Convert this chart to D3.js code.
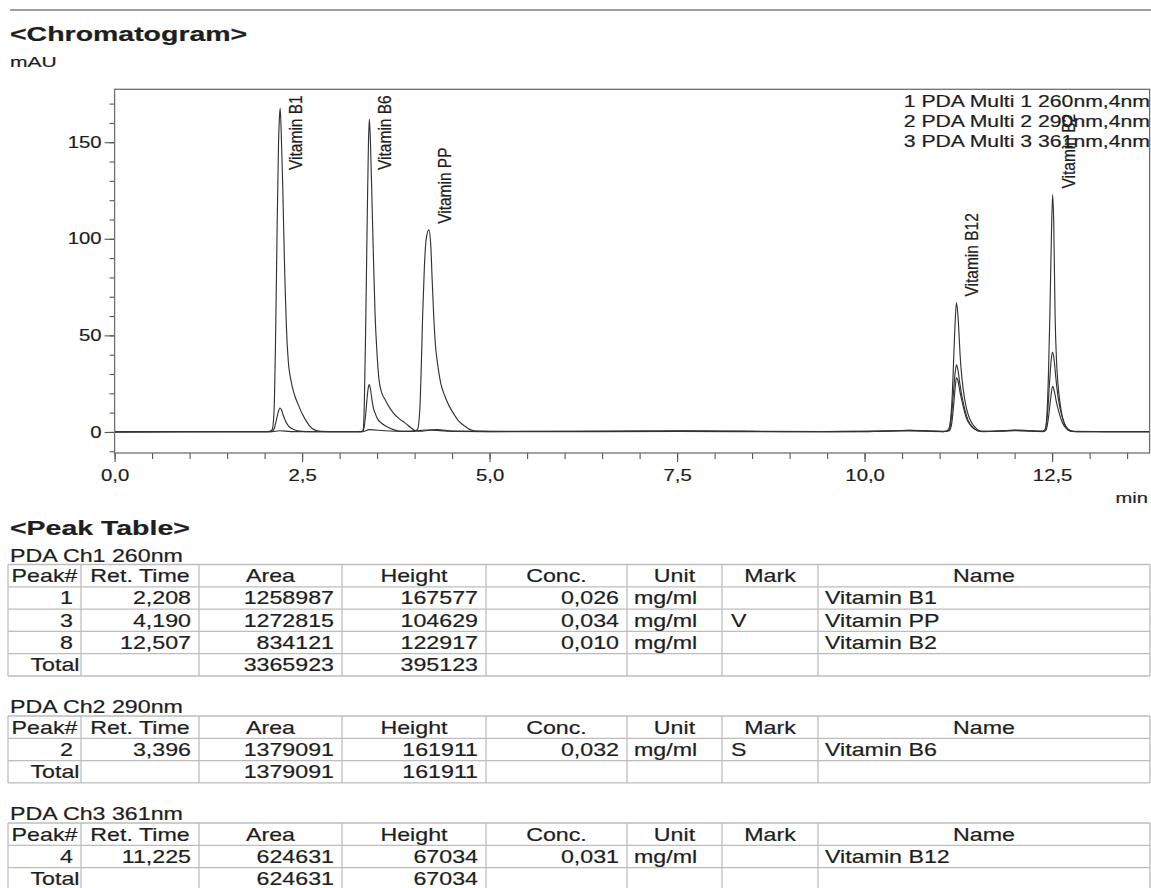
<!DOCTYPE html>
<html>
<head>
<meta charset="utf-8">
<script src="https://cdn.jsdelivr.net/npm/d3@7"></script>
<style>
  html, body { margin: 0; padding: 0; background: #fff; }
  svg { display: block; }
  text { font-family: "Liberation Sans", Arial, sans-serif; fill: #1e1e1e; stroke: #1e1e1e; stroke-width: 0.2px; }
</style>
</head>
<body>
<svg id="chart" width="1151" height="888"></svg>
<script>
// ---- Chromatogram traces: [retention time (min), absorbance (mAU)] ----
// PDA Multi 1, 260 nm
const ch1Trace = [
  [0,0],[0.8,0.1],[1.6,0.1],[2.05,0.2],[2.10,1],[2.125,10],[2.145,45],[2.165,100],[2.185,148],[2.198,163],
  [2.208,167.577],[2.22,157],[2.24,130],[2.255,104],[2.27,80],[2.29,55],[2.315,37],[2.35,27],[2.40,19],[2.45,14],
  [2.50,9.5],[2.55,6],[2.60,3.2],[2.66,1.2],[2.75,0.3],[3.0,0.1],[3.30,0.1],[3.325,2],[3.35,10],[3.37,19],
  [3.385,23.5],[3.396,24.5],[3.41,22.5],[3.43,17],[3.45,12.5],[3.472,9.9],[3.51,6.5],[3.56,4.5],[3.62,3],[3.68,1.8],
  [3.75,0.8],[3.82,0.3],[4.00,0.3],[4.04,1.5],[4.07,12],[4.09,35],[4.107,60],[4.13,85],[4.155,100],[4.19,104.629],
  [4.215,97],[4.234,79],[4.255,60],[4.28,44],[4.305,35.7],[4.35,25],[4.403,18.6],[4.46,13.5],[4.514,9.9],[4.58,6],
  [4.67,3],[4.74,1.2],[4.82,0.5],[5.2,0.3],[6.2,0.3],[7.0,0.4],[7.6,0.6],[8.4,0.4],[9.5,0.2],[10.2,0.3],
  [10.6,0.9],[10.85,0.6],[11.05,0.2],[11.12,0.6],[11.15,5],[11.18,18],[11.205,30],[11.225,34.8],[11.245,32],[11.27,25],
  [11.30,18],[11.34,11],[11.38,6],[11.43,3],[11.48,1.2],[11.55,0.3],[11.8,0.4],[12.0,1.0],[12.2,0.7],[12.38,0.4],
  [12.41,1.5],[12.43,8],[12.45,28],[12.47,60],[12.49,100],[12.507,122.917],[12.522,108],[12.54,60],[12.56,36],[12.58,24],
  [12.60,16.7],[12.63,9],[12.66,4.5],[12.68,2.9],[12.71,1],[12.76,0.3],[13.2,0.2],[13.8,0.1]
];
// PDA Multi 2, 290 nm
const ch2Trace = [
  [0,0],[1.0,0.1],[2.08,0.1],[2.12,1],[2.15,5],[2.18,10],[2.205,12.4],[2.225,11.5],[2.25,8.5],[2.28,5.5],
  [2.32,3],[2.37,1.6],[2.44,0.6],[2.55,0.2],[3.2,0.1],[3.30,0.3],[3.316,1.5],[3.33,15],[3.35,60],[3.37,115],
  [3.385,150],[3.396,161.911],[3.41,152],[3.436,113],[3.455,85],[3.472,62],[3.50,40],[3.525,27.2],[3.56,20.5],[3.605,16.8],
  [3.66,13],[3.716,9.9],[3.79,7],[3.872,4.7],[3.95,2.2],[4.02,0.5],[4.1,0.4],[4.2,0.9],[4.3,0.8],[4.5,0.3],
  [5.5,0.1],[7.5,0.3],[9.0,0.1],[10.6,0.5],[11.05,0.2],[11.13,0.6],[11.16,4],[11.19,15],[11.21,24],[11.225,28],
  [11.245,26.5],[11.27,21],[11.31,14],[11.35,8],[11.40,4],[11.46,1.6],[11.54,0.3],[12.0,0.7],[12.38,0.3],[12.41,1.5],
  [12.44,10],[12.47,28],[12.49,38],[12.507,41.4],[12.525,38],[12.55,28],[12.58,18],[12.61,11.5],[12.65,6],[12.69,2.5],
  [12.74,0.8],[12.8,0.2],[13.8,0.1]
];
// PDA Multi 3, 361 nm
const ch3Trace = [
  [0,0],[1.5,0.1],[2.1,0.1],[2.2,0.6],[2.35,0.2],[3.3,0.1],[3.4,1.2],[3.6,0.6],[3.9,0.3],[4.15,1.0],
  [4.3,1.2],[4.5,0.4],[5.0,0.2],[7.5,0.4],[9.0,0.2],[10.0,0.2],[10.6,0.9],[10.9,0.4],[11.08,0.3],[11.12,1.5],
  [11.15,8],[11.17,20],[11.184,34],[11.205,55],[11.225,67.034],[11.245,60],[11.26,50],[11.273,40],[11.30,27],[11.33,18],
  [11.36,12],[11.40,7],[11.44,4],[11.47,2.6],[11.52,0.8],[11.58,0.2],[12.0,0.8],[12.38,0.2],[12.42,1],[12.45,7],
  [12.48,17],[12.507,23.6],[12.53,21],[12.56,15],[12.60,9],[12.64,4.5],[12.69,1.8],[12.75,0.5],[12.85,0.1],[13.8,0.1]
];

// ---- Identified peaks ----
const peakNames   = ["Vitamin B1", "Vitamin B6", "Vitamin PP", "Vitamin B12", "Vitamin B2"];
const peakTimes   = [2.208, 3.396, 4.190, 11.225, 12.507];
const peakHeights = [167.577, 161.911, 104.629, 67.034, 122.917];

// ---- Axis ticks and legend ----
const xTickValues = [0, 2.5, 5, 7.5, 10, 12.5];
const yTickValues = [0, 50, 100, 150];
const legendLines = ["1 PDA Multi 1 260nm,4nm", "2 PDA Multi 2 290nm,4nm", "3 PDA Multi 3 361nm,4nm"];

// ---- Peak tables ----
const tableColumns = ["Peak#", "Ret. Time", "Area", "Height", "Conc.", "Unit", "Mark", "Name"];
const ch1Title = "PDA Ch1 260nm";
const ch1Rows = [
  ["1", "2,208", "1258987", "167577", "0,026", "mg/ml", "", "Vitamin B1"],
  ["3", "4,190", "1272815", "104629", "0,034", "mg/ml", "V", "Vitamin PP"],
  ["8", "12,507", "834121", "122917", "0,010", "mg/ml", "", "Vitamin B2"],
  ["Total", "", "3365923", "395123", "", "", "", ""]
];
const ch2Title = "PDA Ch2 290nm";
const ch2Rows = [
  ["2", "3,396", "1379091", "161911", "0,032", "mg/ml", "S", "Vitamin B6"],
  ["Total", "", "1379091", "161911", "", "", "", ""]
];
const ch3Title = "PDA Ch3 361nm";
const ch3Rows = [
  ["4", "11,225", "624631", "67034", "0,031", "mg/ml", "", "Vitamin B12"],
  ["Total", "", "624631", "67034", "", "", "", ""]
];

// ================= drawing =================
const svg = d3.select("#chart");

// Text is printed horizontally widened, so every label gets its own x-stretch.
function label(parent, x, y, str, o) {
  o = o || {};
  const sx = o.sx || 1.3;
  return parent.append("text")
    .attr("transform", `translate(${x},${y}) scale(${sx},1)` + (o.rotate ? ` rotate(${o.rotate})` : ""))
    .attr("text-anchor", o.anchor || "start")
    .style("font-size", (o.size || 15) + "px")
    .style("font-weight", o.weight || "normal")
    .text(str);
}

// header rule and titles
svg.append("line").attr("x1", 10).attr("x2", 1151).attr("y1", 10).attr("y2", 10)
  .attr("stroke", "#a0a0a0").attr("stroke-width", 2);
label(svg, 10, 40.5, "<Chromatogram>", {size: 19.5, weight: "bold", sx: 1.46});
label(svg, 10, 66.5, "mAU", {size: 14.5, sx: 1.45});

// plot area
const plot = {left: 114.6, right: 1149.6, top: 89.3, bottom: 453};
const x = d3.scaleLinear().domain([0, 13.8]).range([plot.left, plot.right]);
const y = d3.scaleLinear().domain([-10.9, 177.4]).range([plot.bottom, plot.top]);

const comma = d3.formatLocale({decimal: ",", thousands: " ", grouping: [3], currency: ["", ""]});
const fmtX = comma.format(".1f");

svg.append("defs").append("clipPath").attr("id", "plotClip")
  .append("rect").attr("x", plot.left).attr("y", plot.top)
  .attr("width", plot.right - plot.left).attr("height", plot.bottom - plot.top);

// x axis: minor and major ticks hang below the frame
const gxMinor = svg.append("g").attr("transform", `translate(0,${plot.bottom})`)
  .call(d3.axisBottom(x).tickValues(d3.range(0, 13.81, 0.5)).tickSize(6).tickFormat(""));
const gxMajor = svg.append("g").attr("transform", `translate(0,${plot.bottom})`)
  .call(d3.axisBottom(x).tickValues(xTickValues).tickSize(9).tickPadding(8).tickFormat(fmtX));
// y axis
const gyMinor = svg.append("g").attr("transform", `translate(${plot.left},0)`)
  .call(d3.axisLeft(y).tickValues(d3.range(-10, 171, 10)).tickSize(5).tickFormat(""));
const gyMajor = svg.append("g").attr("transform", `translate(${plot.left},0)`)
  .call(d3.axisLeft(y).tickValues(yTickValues).tickSize(10).tickPadding(4).tickFormat(d3.format("d")));

[gxMinor, gxMajor, gyMinor, gyMajor].forEach(g => {
  g.select(".domain").remove();
  g.selectAll(".tick line").attr("stroke", "#555").attr("stroke-width", 1.1);
});
gxMajor.selectAll(".tick text")
  .attr("transform", "scale(1.27,1)").attr("fill", "#1e1e1e")
  .style("font-size", "16px").style("font-family", '"Liberation Sans", Arial, sans-serif');
gyMajor.selectAll(".tick text")
  .attr("x", -13 / 1.27).attr("transform", "scale(1.27,1)").attr("fill", "#1e1e1e")
  .style("font-size", "16px").style("font-family", '"Liberation Sans", Arial, sans-serif');

label(svg, 1148, 503, "min", {size: 15.5, anchor: "end", sx: 1.3});

// traces
const line = d3.line().x(d => x(d[0])).y(d => y(d[1])).curve(d3.curveMonotoneX);
const traces = svg.append("g").attr("clip-path", "url(#plotClip)");
[ch3Trace, ch2Trace, ch1Trace].forEach(tr => {
  traces.append("path").datum(tr).attr("d", line)
    .attr("fill", "none").attr("stroke", "#333").attr("stroke-width", 1.15)
    .attr("stroke-linejoin", "round");
});

// frame
svg.append("rect")
  .attr("x", plot.left).attr("y", plot.top)
  .attr("width", plot.right - plot.left).attr("height", plot.bottom - plot.top)
  .attr("fill", "none").attr("stroke", "#6f6f6f").attr("stroke-width", 1.3);

// legend, right-aligned against the frame edge
legendLines.forEach((s, i) => label(svg, 1150, 106.7 + i * 20, s, {size: 16.2, sx: 1.31, anchor: "end"}));

// peak names, written upward just right of each apex
peakNames.forEach((name, i) => {
  const px = x(peakTimes[i]), py = y(peakHeights[i]);
  const t = label(svg, 0, 0, name, {size: 15.5, sx: 1.2, rotate: -90});
  const len = t.node().getComputedTextLength();
  const startY = Math.max(py - 6, plot.top + 6 + len);
  t.attr("transform", `translate(${px + 22},${startY}) scale(1.2,1) rotate(-90)`);
});

// ---- peak tables ----
label(svg, 10, 535, "<Peak Table>", {size: 19.5, weight: "bold", sx: 1.46});

const colEdges = [8, 81, 199, 342, 486, 627, 722, 818, 1150];
const colAlign = ["end", "end", "end", "end", "end", "start", "start", "start"];
const rowH = 22.3;
const tableSize = 18, tableSx = 1.29;

function drawTable(title, rows, top) {
  const g = svg.append("g");
  label(g, 10, top - 3, title, {size: tableSize, sx: tableSx});
  const all = [tableColumns].concat(rows);
  const bottom = top + all.length * rowH;
  for (let i = 0; i <= all.length; i++) {
    g.append("line").attr("x1", colEdges[0]).attr("x2", colEdges[colEdges.length - 1])
      .attr("y1", top + i * rowH).attr("y2", top + i * rowH)
      .attr("stroke", "#bdbdbd").attr("stroke-width", 1.3);
  }
  colEdges.forEach(cx => {
    g.append("line").attr("x1", cx).attr("x2", cx).attr("y1", top).attr("y2", bottom)
      .attr("stroke", "#bdbdbd").attr("stroke-width", 1.3);
  });
  all.forEach((row, r) => {
    const base = top + r * rowH + 17.6;
    row.forEach((cell, c) => {
      if (!cell) return;
      const l = colEdges[c], rgt = colEdges[c + 1];
      if (r === 0) {
        label(g, (l + rgt) / 2, base, cell, {size: tableSize, sx: tableSx, anchor: "middle"});
      } else if (colAlign[c] === "end") {
        const pad = (c === 0 && cell === "Total") ? 1.5 : 8;
        label(g, rgt - pad, base, cell, {size: tableSize, sx: tableSx, anchor: "end"});
      } else {
        const pad = c === 6 ? 9 : 7;
        label(g, l + pad, base, cell, {size: tableSize, sx: tableSx});
      }
    });
  });
  return bottom;
}

drawTable(ch1Title, ch1Rows, 564.5);
drawTable(ch2Title, ch2Rows, 716);
drawTable(ch3Title, ch3Rows, 823);
</script>
</body>
</html>
